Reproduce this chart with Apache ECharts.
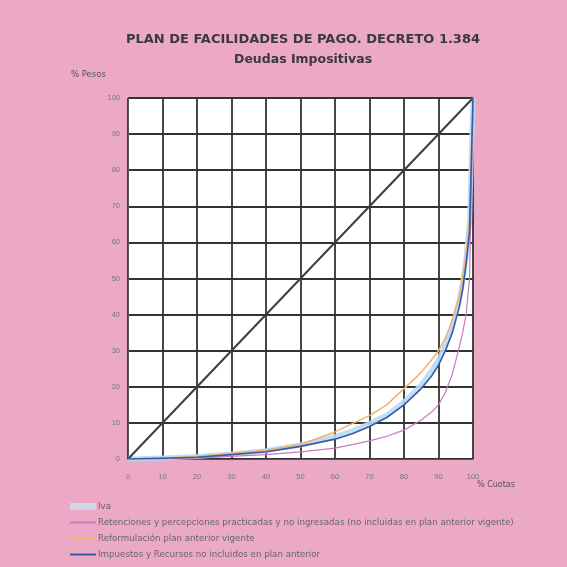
<!DOCTYPE html>
<html><head><meta charset="utf-8">
<script src="https://cdn.jsdelivr.net/npm/echarts@6/dist/echarts.min.js"></script>
<style>html,body{margin:0;padding:0;background:#eba9c6}#c{width:567px;height:567px}</style>
</head><body><div id="c"></div>
<script>
const xs = [0,10,20,30,40,50,60,65,70,75,80,85,88,90,92,94,96,97,98,99,100];
const ivaVals = [0,0.3,0.7,1.4,2.3,3.9,6.2,7.8,9.8,12.2,15.8,20.5,24.5,27.5,31.5,36.5,44,49,56,66,100];
const retVals = [0,0.1,0.3,0.7,1.2,2,3,4,5,6.3,8,10.8,13,15,18.5,23.5,31,35,40,50,100];
const refVals = [0,0.3,0.7,1.5,2.5,4,7.5,9.8,12,15,19.5,24,27.5,30,33.5,38.5,45,50,57,66,100];
const impVals = [0,0.2,0.5,1.2,2,3.5,5.5,7,9,11.5,15,19.5,23,26,30,35,42,47,54,63,100];
const diagX = [0,100];
const diagY = [0,100];
const names = ['Iva','Retenciones y percepciones practicadas y no ingresadas (no incluidas en plan anterior vigente)','Reformulación plan anterior vigente','Impuestos y Recursos no incluidos en plan anterior'];
const pair = (a,b)=>a.map((v,i)=>[v,b[i]]);
const chart = echarts.init(document.getElementById('c'));
const ff = 'Liberation Sans';
const fw = 'DejaVu Sans';
const lineSeries = (name, vals, color, width, z, opacity) => ({
  name, type:'line', data:pair(xs,vals), smooth:false, symbol:'none',
  itemStyle:{color}, lineStyle:{color, width, opacity:opacity||1, join:'round'}, z
});
chart.setOption({
  backgroundColor:'#eba9c6',
  animation:false,
  title:[{text:'PLAN DE FACILIDADES DE PAGO. DECRETO 1.384',left:121,top:28,textStyle:{fontFamily:fw,fontSize:13,fontWeight:'bold',color:'#3a3a3a'}},
         {text:'Deudas Impositivas',left:229,top:48,textStyle:{fontFamily:fw,fontSize:12.5,fontWeight:'bold',color:'#3a3a3a'}}],
  grid:{left:128,right:94,top:98,bottom:108,backgroundColor:'#ffffff',show:true,borderWidth:0},
  xAxis:{type:'value',min:0,max:100,interval:10,
    axisLine:{lineStyle:{color:'#555',width:1}},axisTick:{show:false},
    axisLabel:{fontFamily:ff,fontSize:7.5,color:'#777',margin:14},
    splitLine:{lineStyle:{color:'#333',width:1.8}}},
  yAxis:{type:'value',min:0,max:100,interval:10,
    axisLine:{show:true,lineStyle:{color:'#555',width:1}},axisTick:{show:false},
    axisLabel:{fontFamily:ff,fontSize:7.5,color:'#777',margin:8},
    splitLine:{lineStyle:{color:'#333',width:1.8}}},
  graphic:[
    {type:'text',left:71,top:70,style:{text:'% Pesos',fontFamily:fw,fontSize:8.5,fill:'#555'}},
    {type:'text',left:477,top:481,style:{text:'% Cuotas',fontFamily:fw,fontSize:8,fill:'#555'}}
  ],
  legend:{orient:'vertical',left:64,top:497,itemWidth:26,itemHeight:7,itemGap:7,
    itemStyle:{opacity:0},
    textStyle:{fontFamily:fw,fontSize:8.7,color:'#666',padding:[0,0,0,-3]},
    data:[{name:names[0],icon:'rect',itemStyle:{opacity:1,color:'#cfd6e6'}},names[1],names[2],names[3]]},
  series:[
    {type:'line',data:pair(diagX,diagY),symbol:'none',silent:true,lineStyle:{color:'#3d3d3d',width:2},z:3},
    lineSeries(names[0], ivaVals, '#b8dcf3', 5, 2, 0.9),
    lineSeries(names[1], retVals, '#c77bbd', 1.2, 4),
    lineSeries(names[2], refVals, '#f2b26a', 1.5, 4),
    lineSeries(names[3], impVals, '#3a5aa8', 1.6, 5)
  ]
});
</script></body></html>
